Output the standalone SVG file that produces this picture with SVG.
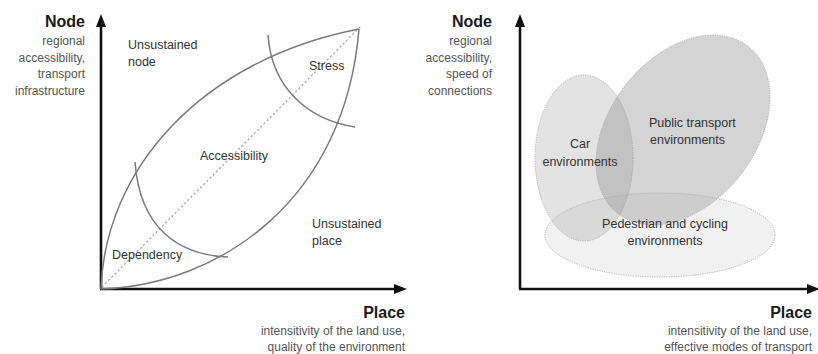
<svg xmlns="http://www.w3.org/2000/svg" width="818" height="354" viewBox="0 0 818 354">
  <style>
    text { font-family: "Liberation Sans", Arial, sans-serif; fill: #333; }
    .title { font-size: 16px; font-weight: bold; fill: #1a1a1a; }
    .sub { font-size: 12px; fill: #555; text-anchor: end; }
    .lbl { font-size: 12.5px; fill: #333; }
    .mid { text-anchor: middle; }
    .end { text-anchor: end; }
    .axis { stroke: #111; stroke-width: 2.6; fill: none; }
    .head { fill: #111; }
    .curve { stroke: #7a7a7a; stroke-width: 1.5; fill: none; }
    .diag { stroke: #9a9a9a; stroke-width: 1.2; stroke-dasharray: 2 2.5; fill: none; }
    .ell { stroke: #aaa; stroke-width: 0.9; stroke-dasharray: 1.2 1.2; }
  </style>

  <!-- Left chart -->
  <g id="left-chart">
    <g id="left-axes">
      <line class="axis" x1="101" y1="289" x2="101" y2="24"/>
      <polygon class="head" points="101,14 96,27 106,27"/>
      <line class="axis" x1="100" y1="289" x2="397" y2="289"/>
      <polygon class="head" points="407,289 394,284 394,294"/>
    </g>
    <g id="left-connectors">
      <line class="diag" x1="102" y1="287" x2="362" y2="25"/>
      <path class="curve" d="M101,289 C105,170 200,60 359,29"/>
      <path class="curve" d="M101,289 C220,285 345,200 359,29"/>
      <path class="curve" d="M135,162 C140,230 180,255 228,257"/>
      <path class="curve" d="M268,35 C272,90 310,120 355,127"/>
    </g>
    <g id="left-node-label">
      <text class="title end" x="85" y="27">Node</text>
      <text class="sub" x="85" y="45">regional</text>
      <text class="sub" x="85" y="62">accessibility,</text>
      <text class="sub" x="85" y="78">transport</text>
      <text class="sub" x="85" y="95">infrastructure</text>
    </g>
    <g id="left-place-label">
      <text class="title end" x="405" y="318">Place</text>
      <text class="sub" x="405" y="335">intensitivity of the land use,</text>
      <text class="sub" x="405" y="351">quality of the environment</text>
    </g>
    <g id="unsustained-node">
      <text class="lbl" x="128" y="49">Unsustained</text>
      <text class="lbl" x="128" y="66">node</text>
    </g>
    <g id="stress"><text class="lbl" x="309" y="70">Stress</text></g>
    <g id="accessibility"><text class="lbl" x="200" y="160">Accessibility</text></g>
    <g id="unsustained-place">
      <text class="lbl" x="312" y="228">Unsustained</text>
      <text class="lbl" x="312" y="245">place</text>
    </g>
    <g id="dependency"><text class="lbl" x="112" y="259">Dependency</text></g>
  </g>

  <!-- Right chart -->
  <g id="right-chart">
    <g id="right-axes">
      <line class="axis" x1="520" y1="289" x2="520" y2="24"/>
      <polygon class="head" points="520,14 515,27 525,27"/>
      <line class="axis" x1="519" y1="289" x2="810" y2="289"/>
      <polygon class="head" points="820,289 807,284 807,294"/>
    </g>
    <g id="car-environments">
      <ellipse class="ell" cx="584" cy="158" rx="49" ry="83" fill="#888" fill-opacity="0.24"/>
    </g>
    <g id="public-transport-environments">
      <ellipse class="ell" cx="683" cy="130" rx="106" ry="73" transform="rotate(-52 683 130)" fill="#888" fill-opacity="0.36"/>
    </g>
    <g id="pedestrian-cycling-environments">
      <ellipse class="ell" cx="660" cy="235" rx="115" ry="42" fill="#aaa" fill-opacity="0.16" stroke="#999"/>
    </g>
    <g id="right-labels">
      <text class="lbl mid" x="580" y="148">Car</text>
      <text class="lbl mid" x="580" y="166">environments</text>
      <text class="lbl" x="649" y="127">Public transport</text>
      <text class="lbl" x="650" y="144">environments</text>
      <text class="lbl mid" x="665" y="228">Pedestrian and cycling</text>
      <text class="lbl mid" x="665" y="245">environments</text>
    </g>
    <g id="right-node-label">
      <text class="title end" x="492" y="27">Node</text>
      <text class="sub" x="492" y="45">regional</text>
      <text class="sub" x="492" y="62">accessibility,</text>
      <text class="sub" x="492" y="78">speed of</text>
      <text class="sub" x="492" y="95">connections</text>
    </g>
    <g id="right-place-label">
      <text class="title end" x="812" y="318">Place</text>
      <text class="sub" x="812" y="335">intensitivity of the land use,</text>
      <text class="sub" x="812" y="351">effective modes of transport</text>
    </g>
  </g>
</svg>
